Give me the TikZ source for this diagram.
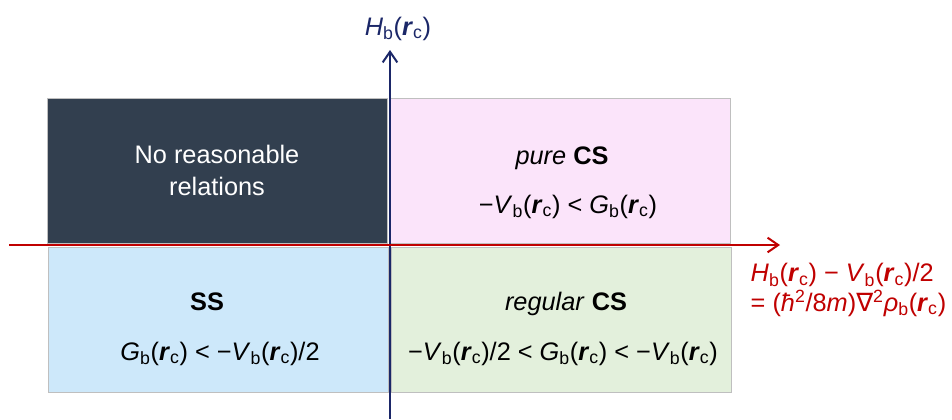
\documentclass[tikz,border=0pt]{standalone}
\usepackage{fontspec}
\setmainfont{Liberation Sans}
\newfontfamily\symfont{DejaVu Sans}
\usetikzlibrary{arrows.meta, positioning}
\definecolor{darkbox}{HTML}{323F4F}
\definecolor{pinkbox}{HTML}{FBE4FA}
\definecolor{bluebox}{HTML}{CDE8FA}
\definecolor{greenbox}{HTML}{E3F0DC}
\definecolor{boxline}{HTML}{BFBFBF}
\definecolor{axisred}{HTML}{C00000}
\definecolor{axisblue}{HTML}{1B2768}
\newcommand{\bcp}[1]{\textit{#1}\textsubscript{b}(\textbf{\textit{r}}\textsubscript{c})}

\begin{document}
\begin{tikzpicture}[x=0.75pt, y=-0.75pt,
  quad/.style={draw=boxline, line width=0.6pt, minimum width=255pt, minimum height=108.75pt, inner sep=0pt},
  txt/.style={anchor=base, font=\fontsize{19}{24}\selectfont},
  axis/.style={line width=1.5pt, -{Straight Barb[length=8pt, width=11pt, line width=1.5pt]}}]
\useasboundingbox (0,0) rectangle (952,419);
\node (nrr) [quad, fill=darkbox, text=white, align=center, font=\fontsize{19}{24}\selectfont] at (217,170.5) {No reasonable\\relations};
\node (pcs) [quad, fill=pinkbox] at (560.5,170.5) {};
\node (ss) [quad, fill=bluebox] at (218,319.5) {};
\node (rcs) [quad, fill=greenbox] at (561,319.5) {};
\node (pcst) [txt] at (562,164) {\textit{pure} \textbf{CS}};
\node (pcsf) [txt] at (568,213) {−\bcp{V} < \bcp{G}};
\node (sst) [txt] at (207,310) {\textbf{SS}};
\node (ssf) [txt] at (220,360) {\bcp{G} < −\bcp{V}/2};
\node (rcst) [txt] at (566,310) {\textit{regular} \textbf{CS}};
\node (rcsf) [txt] at (563,360) {−\bcp{V}/2 < \bcp{G} < −\bcp{V}};
\coordinate (ybot) at (390,419);
\coordinate (ytop) at (390,50);
\coordinate (xleft) at (9,245);
\coordinate (xright) at (780,245);
\draw [axis, axisblue] (ybot) -- (ytop);
\draw [axis, axisred] (xleft) -- (xright);
\node (ylab) [txt, text=axisblue] at (398,35) {\bcp{H}};
\node (xlab) [anchor=base west, align=left, text=axisred, font=\fontsize{19}{21}\selectfont] at (746,311) {\bcp{H} − \bcp{V}/2\\[1pt]= (\textit{ħ}\textsuperscript{2}/8\textit{m}){\symfont ∇}\textsuperscript{2}\textit{ρ}\textsubscript{b}(\textbf{\textit{r}}\textsubscript{c})};
\end{tikzpicture}
\end{document}
